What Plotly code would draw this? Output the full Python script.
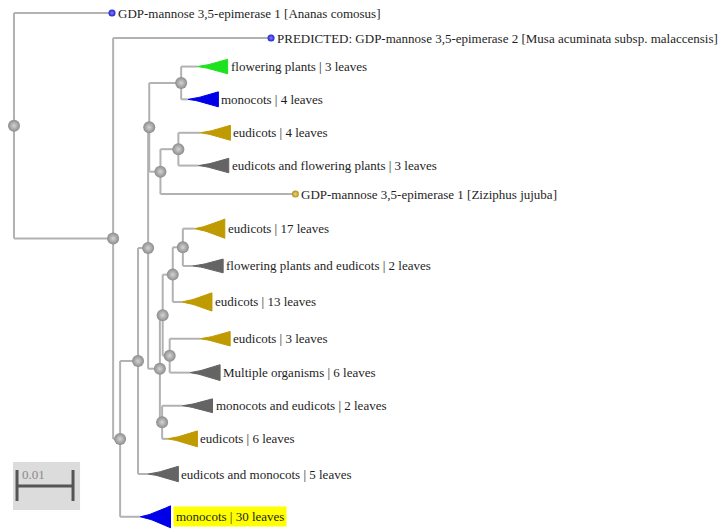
import math
import plotly.graph_objects as go

# ---------------- data ----------------
# internal nodes: name, parent, branch length (substitutions / site)
node_names = ["root", "A", "B", "C", "D", "E", "F", "G", "I", "H", "J", "L", "N", "M", "K"]
node_parent = [None, "root", "A", "B", "C", "D", "E", "E", "G", "D", "H", "J", "L", "J", "H"]
node_branch = [0.0, 0.0177, 0.00125, 0.0032, 0.0018, 0.0002, 0.0057, 0.0020, 0.0032,
               0.0021, 0.0005, 0.0018, 0.0018, 0.00125, 0.0004]

# leaves (top to bottom)
leaf_names = [
    "GDP-mannose 3,5-epimerase 1 [Ananas comosus]",
    "PREDICTED: GDP-mannose 3,5-epimerase 2 [Musa acuminata subsp. malaccensis]",
    "flowering plants",
    "monocots",
    "eudicots",
    "eudicots and flowering plants",
    "GDP-mannose 3,5-epimerase 1 [Ziziphus jujuba]",
    "eudicots",
    "flowering plants and eudicots",
    "eudicots",
    "eudicots",
    "Multiple organisms",
    "monocots and eudicots",
    "eudicots",
    "eudicots and monocots",
    "monocots",
]
leaf_parent = ["root", "A", "F", "F", "I", "I", "G", "N", "N", "L", "M", "M", "K", "K", "C", "B"]
leaf_branch = [0.0175, 0.0282, 0.0029, 0.00125, 0.0039, 0.0036, 0.0241, 0.0021, 0.0018,
               0.0016, 0.0054, 0.0036, 0.0036, 0.0009, 0.0018, 0.0036]
leaf_count = [1, 1, 3, 4, 4, 3, 1, 17, 2, 13, 3, 6, 2, 6, 5, 30]
leaf_group = ["monocots", "monocots", "flowering", "monocots", "eudicots", "mixed", "eudicots",
              "eudicots", "mixed", "eudicots", "eudicots", "mixed", "mixed", "eudicots", "mixed",
              "monocots"]
highlighted = [False] * 15 + [True]
scale_length = 0.01
scale_label = "0.01"

# ---------------- styles ----------------
tri_color = {"monocots": "#0000e8", "eudicots": "#bf9a00", "flowering": "#1ee21e", "mixed": "#646464"}
dot_center = {"monocots": "#8080ff", "eudicots": "#ecd680"}
dot_edge = {"monocots": "#2020d0", "eudicots": "#b09018"}
branch_color = "#b2b2b2"
FONT = "Liberation Serif, Times New Roman, serif"
FSIZE = 13

# ---------------- layout of the tree ----------------
parent_of = {}
blen = {}
for n, p, b in zip(node_names, node_parent, node_branch):
    parent_of[n] = p
    blen[n] = b
children = {n: [] for n in node_names}
leaf_ids = [f"leaf{i}" for i in range(len(leaf_names))]
for lid, p, b in zip(leaf_ids, leaf_parent, leaf_branch):
    parent_of[lid] = p
    blen[lid] = b


def first_leaf(n):
    if n.startswith("leaf"):
        return int(n[4:])
    return min(first_leaf(c) for c in children[n])


for n in node_names[1:]:
    children[parent_of[n]].append(n)
for lid in leaf_ids:
    children[parent_of[lid]].append(lid)
for n in node_names:
    children[n].sort(key=first_leaf)

depth = {}


def set_depth(n, d):
    depth[n] = d
    for c in children.get(n, []):
        set_depth(c, d + blen[c])


set_depth("root", 0.0)


# row positions: spacing grows with clade size
def row_size(k):
    return 1.55 if k == 1 else 5 * math.sqrt(k)


ypos = {}
y = 13.0
for i, k in enumerate(leaf_count):
    if i > 0:
        y += (row_size(leaf_count[i - 1]) + row_size(k)) / 2 + 23.45
    ypos[leaf_ids[i]] = y


def set_y(n):
    if n in ypos:
        return ypos[n]
    ys = [set_y(c) for c in children[n]]
    ypos[n] = (ys[0] + ys[-1]) / 2
    return ypos[n]


set_y("root")

# ---------------- traces ----------------
fig = go.Figure()

lx, ly = [], []
for n in node_names:
    ch = children[n]
    lx += [depth[n], depth[n], None]
    ly += [ypos[ch[0]], ypos[ch[-1]], None]
    for c in ch:
        lx += [depth[n], depth[c], None]
        ly += [ypos[c], ypos[c], None]
fig.add_trace(go.Scatter(x=lx, y=ly, mode="lines", line=dict(color=branch_color, width=2),
                         hoverinfo="skip", showlegend=False))

TRI_W = 0.0054
for i, lid in enumerate(leaf_ids):
    k = leaf_count[i]
    if k > 1:
        h = 11 + 2 * math.sqrt(k)
        x0 = depth[lid]
        yc = ypos[lid]
        steps = 12
        top = [(x0 + TRI_W * t / steps, yc - h / 2 * (t / steps) ** 1.3) for t in range(steps + 1)]
        bot = [(x0 + TRI_W * t / steps, yc + h / 2 * (t / steps) ** 1.3) for t in range(steps, -1, -1)]
        pts = top + bot
        fig.add_trace(go.Scatter(x=[p[0] for p in pts], y=[p[1] for p in pts], mode="lines",
                                 fill="toself", fillcolor=tri_color[leaf_group[i]],
                                 line=dict(color=tri_color[leaf_group[i]], width=1),
                                 hoverinfo="skip", showlegend=False))

# internal node spheres (gradient.color = centre colour for radial)
fig.add_trace(go.Scatter(
    x=[depth[n] for n in node_names], y=[ypos[n] for n in node_names], mode="markers",
    marker=dict(size=12, color="#8c8c8c", gradient=dict(type="radial", color="#d4d4d4"),
                line=dict(width=0)),
    hoverinfo="skip", showlegend=False))

# single sequence dots
for i, lid in enumerate(leaf_ids):
    if leaf_count[i] == 1:
        g = leaf_group[i]
        fig.add_trace(go.Scatter(
            x=[depth[lid]], y=[ypos[lid]], mode="markers",
            marker=dict(size=7, color=dot_edge[g], gradient=dict(type="radial", color=dot_center[g]),
                        line=dict(width=0)),
            hoverinfo="skip", showlegend=False))

# labels
annotations = []
for i, lid in enumerate(leaf_ids):
    k = leaf_count[i]
    if k > 1:
        text = f"{leaf_names[i]} | {k} leaves"
        x = depth[lid] + TRI_W
        shift = 2
    else:
        text = leaf_names[i]
        x = depth[lid]
        shift = 5
    annotations.append(dict(
        x=x, y=ypos[lid], xref="x", yref="y", text=text, showarrow=False,
        xanchor="left", yanchor="middle", xshift=shift,
        font=dict(family=FONT, size=FSIZE, color="#1e1e1e"),
        bgcolor="#ffff00" if highlighted[i] else None, borderpad=2 if highlighted[i] else 0))

# scale bar
sx0 = 0.00054
sb_y = 486
shapes = [
    dict(type="rect", xref="x", yref="y", x0=-0.00018, x1=0.0118, y0=462, y1=510,
         fillcolor="#dcdcdc", line=dict(width=0), layer="below"),
    dict(type="line", xref="x", yref="y", x0=sx0, x1=sx0 + scale_length, y0=sb_y, y1=sb_y,
         line=dict(color="#555555", width=3)),
    dict(type="line", xref="x", yref="y", x0=sx0, x1=sx0, y0=470, y1=501,
         line=dict(color="#555555", width=3)),
    dict(type="line", xref="x", yref="y", x0=sx0 + scale_length, x1=sx0 + scale_length, y0=470, y1=501,
         line=dict(color="#555555", width=3)),
]
annotations.append(dict(x=sx0, y=474, xref="x", yref="y", text=scale_label, showarrow=False,
                        xanchor="left", yanchor="middle", xshift=3,
                        font=dict(family=FONT, size=13, color="#8a8a8a")))

fig.update_layout(
    width=724, height=529, margin=dict(l=0, r=0, t=0, b=0),
    paper_bgcolor="white", plot_bgcolor="white",
    xaxis=dict(range=[-14 / 5600, 710 / 5600], visible=False, fixedrange=True),
    yaxis=dict(range=[529, 0], visible=False, fixedrange=True),
    shapes=shapes, annotations=annotations, showlegend=False,
)

fig.write_html("out.html", config={"displayModeBar": False},
               post_script="document.body.style.margin='0px';document.body.style.overflow='hidden';")
